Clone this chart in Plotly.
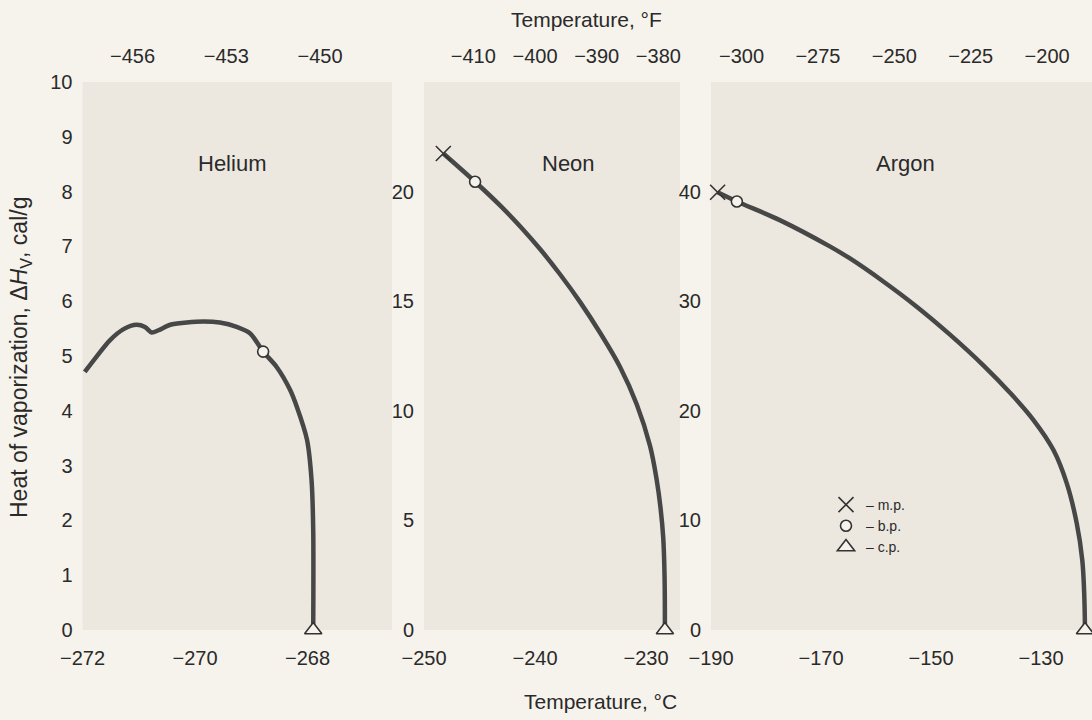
import plotly.graph_objects as go

# ---------------- data ----------------
he_t = [-271.96, -271.75, -271.51, -271.27, -271.04, -270.89, -270.77, -270.65,
        -270.44, -270.15, -269.85, -269.56, -269.26, -269.02, -268.79, -268.55,
        -268.31, -268.19, -268.01, -267.93, -267.90, -267.90]
he_h = [4.71, 4.99, 5.29, 5.49, 5.57, 5.53, 5.43, 5.47,
        5.57, 5.61, 5.63, 5.61, 5.53, 5.41, 5.08, 4.80,
        4.38, 4.07, 3.47, 2.74, 1.82, 0.0]

ne_t = [-248.26, -245.4, -243.15, -241.35, -239.55, -237.75, -235.95, -234.14,
        -232.34, -230.84, -229.64, -229.04, -228.7, -228.45, -228.33, -228.3]
ne_h = [21.74, 20.45, 19.37, 18.42, 17.38, 16.23, 14.97, 13.56,
        12.0, 10.3, 8.4, 6.85, 5.6, 4.2, 2.4, 0.0]

ar_t = [-188.8, -185.3, -177.5, -168.4, -164.73, -158.67, -152.6, -146.55,
        -140.49, -135.64, -131.4, -127.76, -125.33, -123.51, -122.5, -122.15, -122.0]
ar_h = [39.94, 39.1, 37.4, 35.0, 33.9, 31.8, 29.5, 26.95,
        24.15, 21.65, 19.18, 16.44, 13.4, 9.75, 6.39, 3.35, 0.0]

# melting point (m.p.), boiling point (b.p.), critical point (c.p.)
mp_t = {"Neon": -248.26, "Argon": -188.8}
mp_h = {"Neon": 21.74, "Argon": 39.94}
bp_t = {"Helium": -268.79, "Neon": -245.4, "Argon": -185.3}
bp_h = {"Helium": 5.08, "Neon": 20.45, "Argon": 39.1}
cp_t = {"Helium": -267.9, "Neon": -228.3, "Argon": -122.0}
cp_h = {"Helium": 0.0, "Neon": 0.0, "Argon": 0.0}

gases = ["Helium", "Neon", "Argon"]
curves = {"Helium": (he_t, he_h), "Neon": (ne_t, ne_h), "Argon": (ar_t, ar_h)}
smooth = {"Helium": 0.8, "Neon": 1.0, "Argon": 1.0}

# axis ticks
c_ticks = {"Helium": [-272, -270, -268], "Neon": [-250, -240, -230],
           "Argon": [-190, -170, -150, -130]}
f_ticks = {"Helium": [-456, -453, -450], "Neon": [-410, -400, -390, -380],
           "Argon": [-300, -275, -250, -225, -200]}
y_ticks = {"Helium": [0, 1, 2, 3, 4, 5, 6, 7, 8, 9, 10],
           "Neon": [0, 5, 10, 15, 20], "Argon": [0, 10, 20, 30, 40]}

# ---------------- layout geometry ----------------
W, H = 1092, 720
x_range = {"Helium": [-272, -266.5], "Neon": [-250, -226.94], "Argon": [-190, -120.73]}
y_range = {"Helium": [0, 10], "Neon": [0, 25], "Argon": [0, 50]}
x_dom_px = {"Helium": (82.5, 392), "Neon": (424, 680), "Argon": (711, 1092)}
y_dom_px = (82, 630)
label_pos = {"Helium": (-269.34, 8.52), "Neon": (-237.0, 21.27), "Argon": (-154.7, 42.56)}


def c2f(c):
    return c * 9 / 5 + 32


def px_x(p):
    return p / W


def px_y(p):
    return 1 - p / H


PAPER = "#f6f3ec"
PLOT = "#ece8e0"
INK = "#333333"
LINE = "#474747"
FAM = "Liberation Sans, Arial, sans-serif"
NUM_FONT = dict(family=FAM, size=20, color="#2a2a2a")
TXT_FONT = dict(family=FAM, size=21, color="#2a2a2a")

fig = go.Figure()

for i, g in enumerate(gases):
    xa = "x" if i == 0 else f"x{i+1}"
    ya = "y" if i == 0 else f"y{i+1}"
    t, h = curves[g]
    # invisible copy on the °F axis so that the top axis gets drawn
    fig.add_trace(go.Scatter(x=[c2f(v) for v in t], y=h, mode="lines",
                             xaxis=f"x{i+4}", yaxis=ya, opacity=0,
                             line=dict(width=0), showlegend=False, hoverinfo="skip"))
    fig.add_trace(go.Scatter(x=t, y=h, mode="lines", xaxis=xa, yaxis=ya,
                             line=dict(color=LINE, width=4.5, shape="spline",
                                       smoothing=smooth[g]),
                             showlegend=False, hoverinfo="skip"))
    if g in mp_t:
        fig.add_trace(go.Scatter(x=[mp_t[g]], y=[mp_h[g]], mode="markers", xaxis=xa, yaxis=ya,
                                 marker=dict(symbol="x-thin-open", size=15, color=INK,
                                             line=dict(color=INK, width=1.6)),
                                 name="– m.p.", legendgroup="mp", legendrank=1,
                                 showlegend=(g == "Neon"), cliponaxis=False))
    fig.add_trace(go.Scatter(x=[bp_t[g]], y=[bp_h[g]], mode="markers", xaxis=xa, yaxis=ya,
                             marker=dict(symbol="circle", size=11, color=PAPER,
                                         line=dict(color=INK, width=1.6)),
                             name="– b.p.", legendgroup="bp", legendrank=2,
                             showlegend=(g == "Helium"), cliponaxis=False))
    fig.add_trace(go.Scatter(x=[cp_t[g]], y=[cp_h[g]], mode="markers", xaxis=xa, yaxis=ya,
                             marker=dict(symbol="triangle-up", size=15, color=PAPER,
                                         line=dict(color=INK, width=1.6)),
                             name="– c.p.", legendgroup="cp", legendrank=3,
                             showlegend=(g == "Helium"), cliponaxis=False))

layout = dict(
    width=W, height=H,
    margin=dict(l=0, r=0, t=0, b=0, autoexpand=False),
    paper_bgcolor=PAPER, plot_bgcolor=PLOT,
    showlegend=True,
    legend=dict(x=px_x(826), y=px_y(489), xanchor="left", yanchor="top",
                bgcolor="rgba(0,0,0,0)",
                font=dict(family=FAM, size=14, color="#2a2a2a"),
                itemwidth=30, tracegroupgap=0),
)

ydom = [px_y(y_dom_px[1]), px_y(y_dom_px[0])]
for i, g in enumerate(gases):
    sx = "xaxis" if i == 0 else f"xaxis{i+1}"
    sy = "yaxis" if i == 0 else f"yaxis{i+1}"
    xa = "x" if i == 0 else f"x{i+1}"
    ya = "y" if i == 0 else f"y{i+1}"
    xd = [px_x(x_dom_px[g][0]), min(1.0, px_x(x_dom_px[g][1]))]
    layout[sx] = dict(domain=xd, range=x_range[g], anchor=ya, tickvals=c_ticks[g],
                      showgrid=False, zeroline=False, showline=False, ticks="",
                      tickfont=NUM_FONT, ticklabelstandoff=14)
    layout[sy] = dict(domain=ydom, range=y_range[g], anchor=xa, tickvals=y_ticks[g],
                      showgrid=False, zeroline=False, showline=False, ticks="",
                      tickfont=NUM_FONT, ticklabelstandoff=9)
    top = f"xaxis{i+4}"
    layout[top] = dict(overlaying=xa, side="top", anchor=ya,
                       range=[c2f(x_range[g][0]), c2f(x_range[g][1])],
                       tickvals=f_ticks[g], showgrid=False, zeroline=False,
                       showline=False, ticks="", tickfont=NUM_FONT, ticklabelstandoff=14)

fig.update_layout(**layout)

annotations = []
for i, g in enumerate(gases):
    xa = "x" if i == 0 else f"x{i+1}"
    ya = "y" if i == 0 else f"y{i+1}"
    annotations.append(dict(x=label_pos[g][0], y=label_pos[g][1], xref=xa, yref=ya,
                            text=g, showarrow=False,
                            font=dict(family=FAM, size=22, color="#2a2a2a")))
annotations.append(dict(x=px_x(586), y=px_y(19), xref="paper", yref="paper",
                        xanchor="center", yanchor="middle",
                        text="Temperature, °F", showarrow=False, font=TXT_FONT))
annotations.append(dict(x=px_x(600), y=px_y(701), xref="paper", yref="paper",
                        xanchor="center", yanchor="middle",
                        text="Temperature, °C", showarrow=False, font=TXT_FONT))
annotations.append(dict(x=px_x(20), y=px_y(358), xref="paper", yref="paper",
                        xanchor="center", yanchor="middle",
                        text="Heat of vaporization, Δ<i>H</i><sub>V</sub>, cal/g",
                        textangle=-90, showarrow=False,
                        font=dict(family=FAM, size=23, color="#2a2a2a")))
fig.update_layout(annotations=annotations)

fig.write_html("out.html", config={"displayModeBar": False},
               post_script="document.body.style.margin='0';")
